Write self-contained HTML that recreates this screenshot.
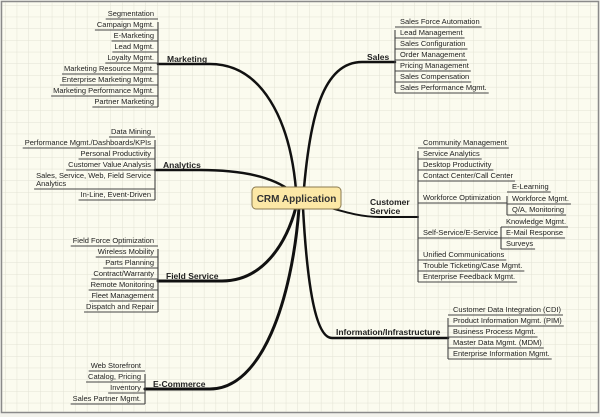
<!DOCTYPE html>
<html><head><meta charset="utf-8"><style>
html,body{margin:0;padding:0;background:#fff}
svg{display:block}
text{font-family:"Liberation Sans","DejaVu Sans",sans-serif;fill:#222}
.l{font-size:7.5px}
.b{font-size:8.5px;font-weight:bold}
</style></head><body>
<svg id="s" width="600" height="417" viewBox="0 0 600 417" xmlns="http://www.w3.org/2000/svg">
<defs><pattern id="g" x="5" y="5" width="11.7" height="11.7" patternUnits="userSpaceOnUse">
<path d="M0 0H11.7M0 0V11.7" stroke="#e2e2d4" stroke-width="1" fill="none"/></pattern></defs>
<rect x="0" y="0" width="600" height="417" fill="#f2f2ec"/>
<rect x="1.5" y="1.5" width="597" height="411" fill="#fbfbef" stroke="#8a8a8a" stroke-width="1.5"/>
<rect x="2.5" y="2.5" width="595" height="409" fill="url(#g)"/>
<g fill="none" stroke="#111" stroke-linecap="round">
<path d="M158 64 L210 64 C262 64 290 120 296 190" stroke-width="2.5"/>
<path d="M155 170 L200 170 C245 170 275 178 292 192" stroke-width="2.5"/>
<path d="M158 281 L222 281 C262 281 286 245 296 207" stroke-width="3"/>
<path d="M145 389 L210 389 C262 389 292 300 299 208" stroke-width="3"/>
<path d="M395 62 L362 62 C322 62 310 120 304 188" stroke-width="2.5"/>
<path d="M320 205 C345 212 360 217 380 217 L418 217" stroke-width="2"/>
<path d="M448 338 L332 338 C318 338 308 300 303 208" stroke-width="2.5"/>
</g>
<g id="lv"></g>
<rect x="252" y="187" width="89" height="22" rx="4" fill="#fce8a6" stroke="#8a7a50" stroke-width="1"/>
<text x="296.5" y="202" text-anchor="middle" style="font-size:10px;font-weight:bold;fill:#333">CRM Application</text>
<text class="b" x="167" y="62">Marketing</text>
<text class="b" x="163" y="168">Analytics</text>
<text class="b" x="166" y="279">Field Service</text>
<text class="b" x="153" y="387">E-Commerce</text>
<text class="b" x="367" y="60">Sales</text>
<text class="b" x="370" y="205">Customer</text>
<text class="b" x="370" y="214">Service</text>
<text class="b" x="336" y="335">Information/Infrastructure</text>
</svg>
<script>
var NS="http://www.w3.org/2000/svg",s=document.getElementById('lv');
function el(t,a,txt){var e=document.createElementNS(NS,t);for(var k in a)e.setAttribute(k,a[k]);if(txt)e.textContent=txt;s.appendChild(e);return e;}
function group(bx,side,items,y0,yl){
 var ys=[];
 items.forEach(function(it){
  var lines=it[0].split('|'),y=it[1];
  var tx=side=='L'?bx-4:bx+5;
  var w=0,ts=[];
  lines.forEach(function(ln,i){
   var t=el('text',{'class':'l',x:tx,y:y-(lines.length-1-i)*8,'text-anchor':side=='L'?'end':'start'},ln);
   w=Math.max(w,t.getComputedTextLength());ts.push(t);
  });
  if(lines.length>1&&side=='L'){ts.forEach(function(t){t.setAttribute('text-anchor','start');t.setAttribute('x',bx-4-w);});}
  var uy=y+3;ys.push(uy);
  var x1=side=='L'?bx-w-6:bx, x2=side=='L'?bx:bx+w+7;
  el('path',{d:'M'+x1+' '+uy+'H'+x2,stroke:'#444','stroke-width':1.1,fill:'none'});
 });
 var a=y0!==undefined?y0:ys[1]-8, b=yl!==undefined?yl:ys[ys.length-1];
 el('path',{d:'M'+bx+' '+a+'V'+b,stroke:'#444','stroke-width':1.1,fill:'none'});
}
group(158,'L',[["Segmentation",16],["Campaign Mgmt.",27],["E-Marketing",38],["Lead Mgmt.",49],["Loyalty Mgmt.",60],["Marketing Resource Mgmt.",71],["Enterprise Marketing Mgmt.",82],["Marketing Performance Mgmt.",93],["Partner Marketing",104]]);
group(155,'L',[["Data Mining",134],["Performance Mgmt./Dashboards/KPIs",145],["Personal Productivity",156],["Customer Value Analysis",167],["Sales, Service, Web, Field Service|Analytics",186],["In-Line, Event-Driven",197]]);
group(158,'L',[["Field Force Optimization",243],["Wireless Mobility",254],["Parts Planning",265],["Contract/Warranty",276],["Remote Monitoring",287],["Fleet Management",298],["Dispatch and Repair",309]]);
group(145,'L',[["Web Storefront",368],["Catalog, Pricing",379],["Inventory",390],["Sales Partner Mgmt.",401]]);
group(395,'R',[["Sales Force Automation",24],["Lead Management",35],["Sales Configuration",46],["Order Management",57],["Pricing Management",68],["Sales Compensation",79],["Sales Performance Mgmt.",90]]);
group(418,'R',[["Community Management",145],["Service Analytics",156],["Desktop Productivity",167],["Contact Center/Call Center",178],["Workforce Optimization",200],["Self-Service/E-Service",235],["Unified Communications",257],["Trouble Ticketing/Case Mgmt.",268],["Enterprise Feedback Mgmt.",279]]);
el('path',{d:'M496 203H507',stroke:'#444','stroke-width':1.1});
el('path',{d:'M490 238H501',stroke:'#444','stroke-width':1.1});
group(507,'R',[["E-Learning",189],["Workforce Mgmt.",201],["Q/A, Monitoring",212]]);
group(501,'R',[["Knowledge Mgmt.",224],["E-Mail Response",235],["Surveys",246]],227);
group(448,'R',[["Customer Data Integration (CDI)",312],["Product Information Mgmt. (PIM)",323],["Business Process Mgmt.",334],["Master Data Mgmt. (MDM)",345],["Enterprise Information Mgmt.",356]]);
</script>
</body></html>
